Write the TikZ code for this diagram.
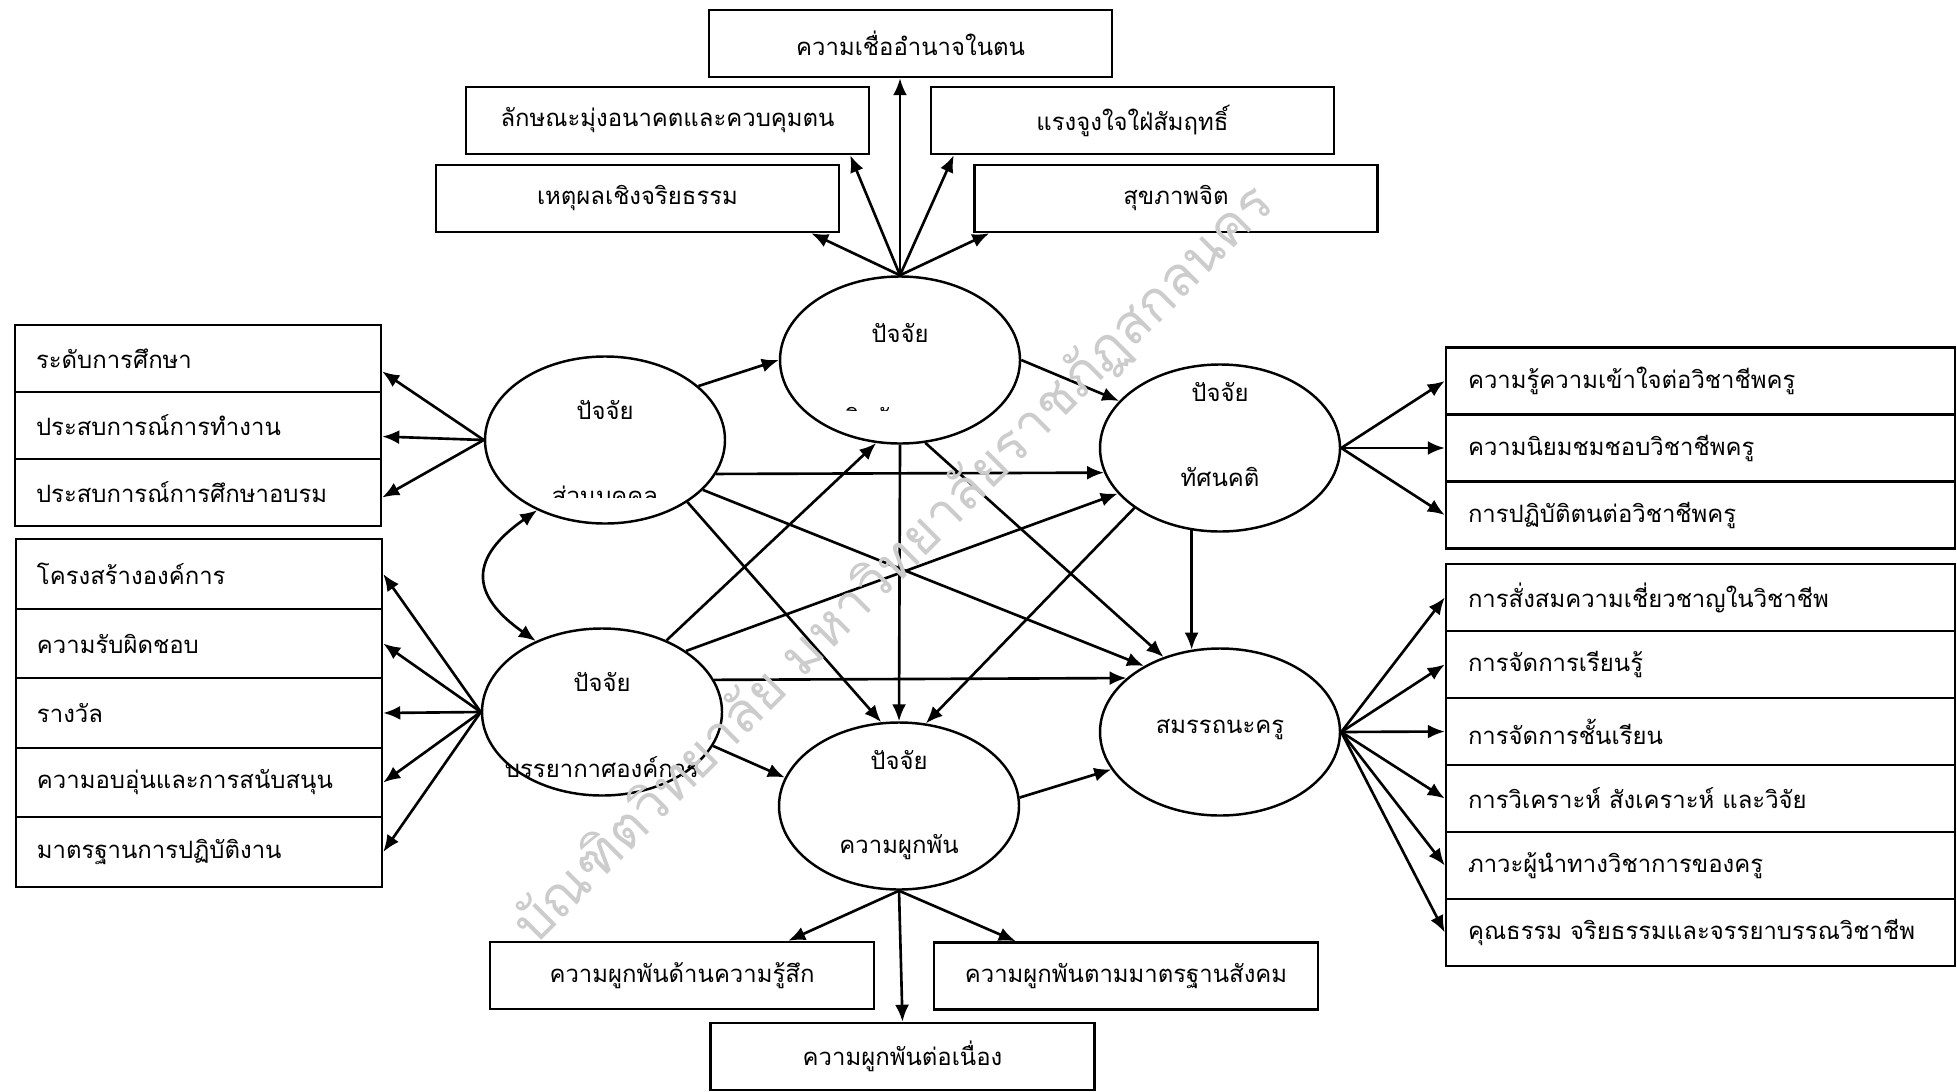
\documentclass[tikz,border=0pt]{standalone}
\usepackage{fontspec}
\setmainfont{Loma}[Script=Thai]
\usepackage{tikz}
\usetikzlibrary{arrows.meta,positioning,shapes.geometric}

\begin{document}
\begin{tikzpicture}[
  factor/.style={ellipse, draw, line width=0.7pt, minimum width=2.4cm,
                 minimum height=1.67cm, inner sep=0pt},
  tag/.style={font=\fontsize{6.8}{8}\selectfont, inner sep=0pt},
  item/.style={draw, line width=0.7pt, minimum width=4.03cm,
               minimum height=0.67cm, inner sep=0pt,
               font=\fontsize{6.8}{8}\selectfont},
  row/.style={draw, line width=0.7pt, minimum height=0.67cm,
              text width=3.24cm, inner xsep=0.21cm, inner ysep=0pt,
              align=left, font=\fontsize{6.8}{8}\selectfont},
  rrow/.style={row, text width=4.65cm, inner xsep=0.22cm},
  link/.style={-{Latex[length=1.7mm,width=1.4mm]}, line width=0.75pt},
  dlink/.style={{Latex[length=1.7mm,width=1.4mm]}-{Latex[length=1.7mm,width=1.4mm]},
                line width=0.75pt},
  stamp/.style={text=black!20, font=\fontsize{15.5}{18}\selectfont, inner sep=0pt}
]
\useasboundingbox (0,0) rectangle (19.57,-10.91);

\node[factor] (psy) at (9.00,-3.60) {};
\node[factor] (pers) at (6.05,-4.40) {};
\node[factor] (clim) at (6.02,-7.12) {};
\node[factor] (att) at (12.20,-4.48) {};
\node[factor] (comp) at (12.20,-7.32) {};
\node[factor] (comm) at (8.99,-8.06) {};

\node[tag] (psy-a) at (9.00,-3.33) {ปัจจัย};
\begin{scope}
  \clip (8.2,-3.9) rectangle (9.8,-4.10);
  \node[tag, anchor=base] (psy-b) at (9.00,-4.26) {จิตลักษณะ};
\end{scope}
\node[tag] (pers-a) at (6.05,-4.10) {ปัจจัย};
\begin{scope}
  \clip (5.2,-4.7) rectangle (6.9,-4.97);
  \node[tag, anchor=base] (pers-b) at (6.05,-5.04) {ส่วนบุคคล};
\end{scope}
\node[tag] (clim-a) at (6.02,-6.82) {ปัจจัย};
\node[tag] (clim-b) at (6.02,-7.67) {บรรยากาศองค์การ};
\node[tag] (att-a) at (12.20,-3.92) {ปัจจัย};
\node[tag] (att-b) at (12.20,-4.77) {ทัศนคติ};
\node[tag] (comp-a) at (12.20,-7.30) {สมรรถนะครู};
\node[tag] (comm-a) at (8.99,-7.60) {ปัจจัย};
\node[tag] (comm-b) at (8.99,-8.47) {ความผูกพัน};

\node[item] (believe) at (9.105,-0.435) {ความเชื่ออำนาจในตน};
\node[item] (future) at (6.675,-1.205) {ลักษณะมุ่งอนาคตและควบคุมตน};
\node[item] (achieve) at (11.325,-1.205) {แรงจูงใจใฝ่สัมฤทธิ์};
\node[item] (moral) at (6.375,-1.985) {เหตุผลเชิงจริยธรรม};
\node[item] (health) at (11.76,-1.985) {สุขภาพจิต};

\node[row] (edu) at (1.98,-3.585) {ระดับการศึกษา};
\node[row] (work) at (1.98,-4.255) {ประสบการณ์การทำงาน};
\node[row] (train) at (1.98,-4.925) {ประสบการณ์การศึกษาอบรม};

\node[row, minimum height=0.695cm] (struct) at (1.99,-5.74) {โครงสร้างองค์การ};
\node[row, minimum height=0.695cm] (resp) at (1.99,-6.435) {ความรับผิดชอบ};
\node[row, minimum height=0.695cm] (reward) at (1.99,-7.13) {รางวัล};
\node[row, minimum height=0.695cm] (warm) at (1.99,-7.825) {ความอบอุ่นและการสนับสนุน};
\node[row, minimum height=0.695cm] (stand) at (1.99,-8.52) {มาตรฐานการปฏิบัติงาน};

\node[rrow] (know) at (17.005,-3.81) {ความรู้ความเข้าใจต่อวิชาชีพครู};
\node[rrow] (like) at (17.005,-4.48) {ความนิยมชมชอบวิชาชีพครู};
\node[rrow] (act) at (17.005,-5.15) {การปฏิบัติตนต่อวิชาชีพครู};

\node[rrow] (expert) at (17.005,-5.975) {การสั่งสมความเชี่ยวชาญในวิชาชีพ};
\node[rrow] (learn) at (17.005,-6.645) {การจัดการเรียนรู้};
\node[rrow] (class) at (17.005,-7.315) {การจัดการชั้นเรียน};
\node[rrow] (resrch) at (17.005,-7.985) {การวิเคราะห์ สังเคราะห์ และวิจัย};
\node[rrow] (lead) at (17.005,-8.655) {ภาวะผู้นำทางวิชาการของครู};
\node[rrow] (ethic) at (17.005,-9.325) {คุณธรรม จริยธรรมและจรรยาบรรณวิชาชีพ};

\node[item, minimum width=3.84cm] (feel) at (6.82,-9.755) {ความผูกพันด้านความรู้สึก};
\node[item, minimum width=3.84cm] (norm) at (11.26,-9.76) {ความผูกพันตามมาตรฐานสังคม};
\node[item, minimum width=3.84cm] (cont) at (9.025,-10.565) {ความผูกพันต่อเนื่อง};

\draw[link] (psy.north) -- (psy.north |- believe.south);
\draw[link] (psy.north) -- ([xshift=-0.2cm]future.south east);
\draw[link] (psy.north) -- ([xshift=0.24cm]achieve.south west);
\draw[link] (psy.north) -- ([xshift=-0.29cm]moral.south east);
\draw[link] (psy.north) -- ([xshift=0.16cm]health.south west);

\draw[link] (pers.west) -- ([yshift=-0.13cm]edu.east);
\draw[link] (pers.west) -- ([yshift=-0.11cm]work.east);
\draw[link] (pers.west) -- ([yshift=-0.05cm]train.east);

\draw[link] (clim.west) -- (struct.east);
\draw[link] (clim.west) -- (resp.east);
\draw[link] (clim.west) -- (reward.east);
\draw[link] (clim.west) -- (warm.east);
\draw[link] (clim.west) -- (stand.east);

\draw[link] (att.east) -- (know.west);
\draw[link] (att.east) -- (like.west);
\draw[link] (att.east) -- (act.west);

\draw[link] (comp.east) -- (expert.west);
\draw[link] (comp.east) -- (learn.west);
\draw[link] (comp.east) -- (class.west);
\draw[link] (comp.east) -- (resrch.west);
\draw[link] (comp.east) -- (lead.west);
\draw[link] (comp.east) -- (ethic.west);

\draw[link] (comm.south) -- ([xshift=-0.87cm]feel.north east);
\draw[link] (comm.south) -- (cont.north);
\draw[link] (comm.south) -- ([xshift=0.83cm]norm.north west);

\draw[link] (pers.30) -- (psy.180);
\draw[link] (pers.-17.4) -- (att.192.8);
\draw[link] (pers.-27.3) -- (comp.139.5);
\draw[link] (pers.-37.1) -- (comm.102.2);
\draw[link] (clim.48.3) -- (psy.-106.2);
\draw[link] (clim.36.1) -- (att.204);
\draw[link] (clim.16.2) -- (comp.150.9);
\draw[link] (clim.-17.7) -- (comm.166.7);
\draw[link] (psy.south) -- (comm.north);
\draw[link] (psy.0) -- (att.155.4);
\draw[link] (psy.-73.8) -- (comp.127.2);
\draw[link] (att.215.2) -- (comm.72.3);
\draw[link] (att.-109.6) -- (comp.109.6);
\draw[link] (comm.4.8) -- (comp.199.4);
\draw[dlink] (pers.226) to[out=215, in=145, looseness=1.6] (clim.133);

\node[stamp, rotate=45] (seal) at (8.94,-5.65) {บัณฑิตวิทยาลัย มหาวิทยาลัยราชภัฏสกลนคร};
\end{tikzpicture}
\end{document}
